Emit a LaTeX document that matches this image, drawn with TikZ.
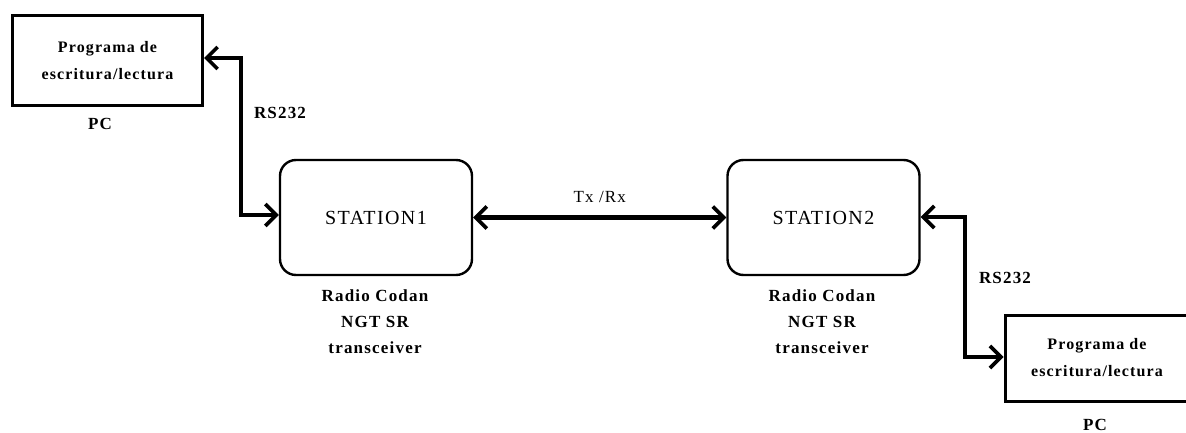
\documentclass[tikz,border=0pt]{standalone}
\usepackage{fontspec}
\setmainfont{Liberation Serif}
\newfontfamily\spacedfont{Liberation Serif}[LetterSpace=7]
\usetikzlibrary{arrows.meta}
\begin{document}
\begin{tikzpicture}[x=1pt,y=-1pt,
  pcbox/.style={draw, line width=3pt, minimum width=190pt, minimum height=90pt,
    align=center, font=\spacedfont\bfseries\fontsize{16}{27}\selectfont, inner sep=0pt},
  stbox/.style={draw, line width=2.4pt, rounded corners=16pt, minimum width=192pt,
    minimum height=115pt, font=\spacedfont\fontsize{20}{22}\selectfont, inner sep=0pt},
  lbl/.style={font=\spacedfont\bfseries\fontsize{17}{26}\selectfont, align=center, inner sep=0pt},
  barb/.tip={Straight Barb[length=11pt,width=22pt,line width=3.6pt]},
  link/.style={line width=4.6pt, {barb}-{barb}}
]
\useasboundingbox (0,0) rectangle (1186,433);
% end devices and radios
\node[pcbox] (pc1) at (107.5,61) {Programa de\\escritura/lectura};
\node[lbl] (pc1l) at (100,124) {PC};
\node[stbox] (st1) at (376,217.5) {STATION1};
\node[lbl] (st1l) at (375,322) {Radio Codan\\NGT SR\\transceiver};
\node[stbox] (st2) at (823.5,217.5) {STATION2};
\node[lbl] (st2l) at (822,322) {Radio Codan\\NGT SR\\transceiver};
\node[pcbox, minimum width=184pt, minimum height=86pt] (pc2) at (1097,358) {Programa de\\escritura/lectura};
\node[lbl] (pc2l) at (1095,425) {PC};
% serial and radio links
\coordinate (a1) at (241,58);
\coordinate (a2) at (241,215);
\draw[link] (pc1.east |- a1) -- (a1) -- (a2) -- (st1.west |- a2);
\node[lbl] (rs1) at (280,113) {RS232};
\draw[link] (st1.east) -- (st2.west) node[lbl, font=\spacedfont\fontsize{17}{18}\selectfont, midway, above=13pt] (txrx) {Tx /Rx};
\coordinate (b1) at (965,217);
\coordinate (b2) at (965,357);
\draw[link] (st2.east |- b1) -- (b1) -- (b2) -- (pc2.west |- b2);
\node[lbl] (rs2) at (1005,278) {RS232};
\end{tikzpicture}
\end{document}
